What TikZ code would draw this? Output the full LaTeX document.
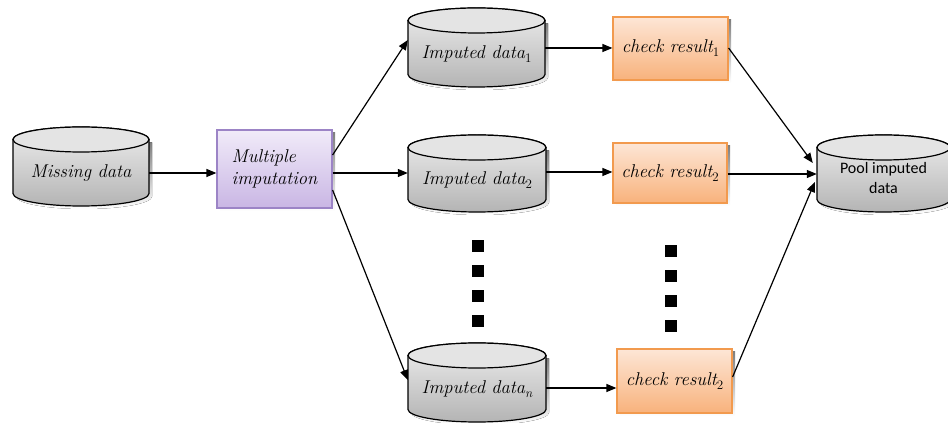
\documentclass[tikz,border=0pt]{standalone}
\usepackage{fontspec}
\newfontfamily\calib{Carlito}
\usetikzlibrary{arrows.meta,calc}
\definecolor{cylTop}{HTML}{EDEDED}
\definecolor{cylBot}{HTML}{B4B4B4}
\definecolor{cylLid}{HTML}{E4E4E4}
\definecolor{purTop}{HTML}{F1EBF9}
\definecolor{purBot}{HTML}{C9B6E4}
\definecolor{purLine}{HTML}{9C84C6}
\definecolor{orTop}{HTML}{FDE6D6}
\definecolor{orBot}{HTML}{F8B27C}
\definecolor{orLine}{HTML}{F29A4E}
\definecolor{shade}{HTML}{D0D0D0}

% italic label font and its subscripts
\newcommand\lblfont{\fontsize{18.5}{22}\selectfont\itshape}
\newcommand\subup[1]{\raisebox{-4pt}{\fontsize{13}{13}\selectfont\upshape #1}}
\newcommand\subit[1]{\raisebox{-4pt}{\fontsize{13}{13}\selectfont\itshape #1}}

% database drum: name, centre x, top y, bottom y, width, label
\newcommand\dbdrum[6]{%
  \fill[shade] ({#2-#5/2+3},{#3-12.5-3}) -- ({#2-#5/2+3},{#4+12.5-3})
     arc[start angle=180,end angle=360,x radius=#5/2,y radius=12.5]
     -- ({#2+#5/2+3},{#3-12.5-3}) -- cycle;
  \draw[drumline, top color=cylTop, bottom color=cylBot]
     ({#2-#5/2},{#3-12.5}) -- ({#2-#5/2},{#4+12.5})
     arc[start angle=180,end angle=360,x radius=#5/2,y radius=12.5]
     -- ({#2+#5/2},{#3-12.5})
     arc[start angle=0,end angle=180,x radius=#5/2,y radius=12.5] -- cycle;
  \draw[drumline, fill=cylLid] (#2,{#3-12.5}) ellipse [x radius=#5/2, y radius=12.5];
  \node[minimum width=#5, minimum height={#3-#4}, inner sep=0pt] (#1) at (#2,{(#3+#4)/2}) {};
  \node[inner sep=0pt] (#1-txt) at (#2,{(#3-12.5+#4)/2}) {#6};
}

\begin{document}
\begin{tikzpicture}[x=1pt,y=1pt,
  flow/.style={-{Triangle[length=10pt,width=8pt]}, line width=1.2pt},
  drumline/.style={draw=black, line width=1.2pt},
  purbox/.style={draw=purLine, line width=1.2pt, top color=purTop, bottom color=purBot,
    inner sep=0pt, font=\lblfont},
  orbox/.style={draw=orLine, line width=1.2pt, top color=orTop, bottom color=orBot,
    inner sep=0pt, font=\lblfont},
  dotbox/.style={fill=black, minimum size=12pt, inner sep=0pt}]
\useasboundingbox (0,0) rectangle (948,423);
\clip (0,0) rectangle (948,423);

% data stores
\dbdrum{md}{81}{296}{217}{136}{\lblfont Missing data}
\dbdrum{id1}{476.5}{415}{336}{137}{\lblfont Imputed data\subup{1}}
\dbdrum{id2}{477}{288}{211}{138}{\lblfont Imputed data\subup{2}}
\dbdrum{idn}{477}{80}{1}{138}{\lblfont Imputed data\subit{n}}
\dbdrum{pool}{883.5}{288}{211}{133}{\calib\fontsize{16}{20}\selectfont\begin{tabular}{c}Pool imputed\\[0pt]data\end{tabular}}

% imputation step
\fill[shade] (220,212) rectangle (335,290);
\node[purbox, minimum width=115pt, minimum height=78pt, align=left] (mi) at (274.5,254)
  {Multiple\\imputation};

% checks
\fill[shade] (616,340) rectangle (731,403);
\node[orbox, minimum width=115pt, minimum height=63pt] (cr1) at (670.5,374.5) {check result\subup{1}};
\fill[shade] (616,217) rectangle (730,277);
\node[orbox, minimum width=114pt, minimum height=60pt] (cr2) at (670,250) {check result\subup{2}};
\fill[shade] (620,7) rectangle (735,71);
\node[orbox, minimum width=115pt, minimum height=64pt] (crn) at (674.5,42) {check result\subup{2}};

% ellipsis marks
\foreach \i/\yy in {1/177,2/152,3/127,4/102}
  \node[dotbox] (dl\i) at (478,\yy) {};
\foreach \i/\yy in {1/172,2/147,3/122,4/97}
  \node[dotbox] (dr\i) at (671,\yy) {};

% connectors
\draw[flow] ($(md.east)+(0,-6.5)$) coordinate (a0) -- (a0 -| mi.west);
\draw[flow] ($(mi.east)+(0,14)$) -- ($(id1.west)+(0,7.5)$);
\draw[flow] ($(mi.east)+(0,-4)$) coordinate (a1) -- (a1 -| id2.west);
\draw[flow] ($(mi.east)+(0,-21)$) -- ($(idn.west)+(0,2.5)$);
\draw[flow] ($(id1.east)+(0,-0.5)$) coordinate (a2) -- (a2 -| cr1.west);
\draw[flow] ($(id2.east)+(0,1.5)$) coordinate (a3) -- (a3 -| cr2.west);
\draw[flow] ($(idn.east)+(0,-5.5)$) coordinate (a4) -- (a4 -| crn.west);
\draw[flow] ($(cr1.east)+(0,0.5)$) -- ($(pool.west)+(-4,10.5)$);
\draw[flow] ($(cr2.east)+(0,-1)$) coordinate (a5) -- (a5 -| pool.west);
\draw[flow] ($(crn.east)+(0,4)$) -- ($(pool.west)+(-2,-8.5)$);
\end{tikzpicture}
\end{document}
